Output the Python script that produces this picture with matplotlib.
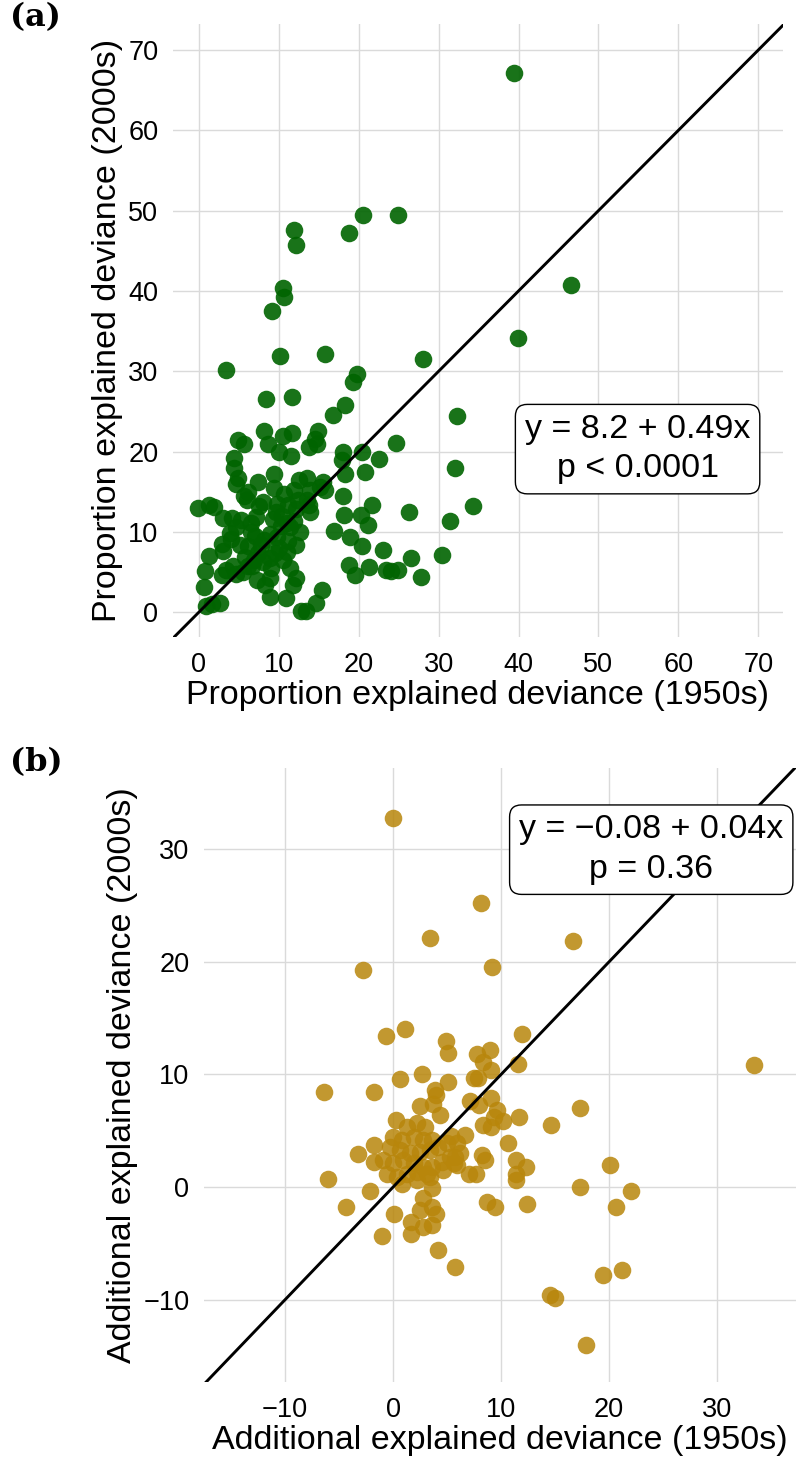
import matplotlib
matplotlib.use("Agg")
import matplotlib.pyplot as plt

# ---------------- data: panel (a) ----------------
x_a = [39.4, 46.6, 39.9, 32.25, 32.1, 34.25, 31.4, 30.4, 28.1, 26.25, 26.6, 27.75, 24.6, 24.9,
       20.5, 18.75, 11.9, 12.1, 10.5, 10.6, 9.1, 10.1, 15.75, 3.4, 19.75, 19.25, 18.25, 16.75,
       11.6, 8.4, 14.9, 14.5, 11.6, 8.1, 4.9, 5.6, 8.6, 10.5, 10.0, 4.4, 11.5, 18.0, 17.9, 20.4,
       22.5, 20.75, 18.25, 9.4, 4.4, 4.9, 4.6, 15.5, 15.1, 13.5, 12.5, 13.9, 11.9, 9.4, 7.4, 18.0,
       21.6, 15.75, 13.5, 10.6, 6.1, 5.6, -0.1, 1.25, 1.9, 3.0, 4.1, 18.1, 20.25, 21.1, 16.9, 18.9,
       20.4, 23.0, 18.75, 19.5, 21.25, 23.4, 24.0, 24.9, 15.4, 14.6, 12.75, 13.4, 11.75, 12.1, 11.4,
       10.9, 8.9, 8.25, 7.25, 8.9, 1.6, 2.6, 0.9, 0.6, 1.25, 0.75, 2.9, 3.4, 4.25, 4.6, 5.5, 6.1,
       6.9, 7.4, 5.75, 3.0, 2.9, 3.9, 4.0, 4.6, 5.3, 6.5, 7.1, 7.5, 8.0, 8.9, 8.1, 9.75, 10.25,
       11.0, 11.4, 11.9, 12.1, 11.1, 9.75, 11.1, 12.1, 11.0, 9.5, 8.9, 8.0, 6.6, 6.1, 5.1, 9.25,
       9.6, 13.9, 13.75, 12.4, 6.0, 13.75, 14.75, 7.0, 10.0, 6.5, 9.0, 10.5, 7.8, 12.6, 10.4]
y_a = [67.2, 40.75, 34.1, 24.4, 18.0, 13.25, 11.4, 7.1, 31.5, 12.5, 6.75, 4.4, 21.1, 49.5,
       49.5, 47.25, 47.6, 45.75, 40.4, 39.25, 37.5, 31.9, 32.1, 30.1, 29.6, 28.6, 25.75, 24.5,
       26.75, 26.5, 22.5, 21.5, 22.25, 22.6, 21.4, 21.0, 21.0, 21.9, 20.0, 19.25, 19.5, 20.0, 19.0, 19.9,
       19.1, 17.4, 17.25, 17.25, 17.9, 16.75, 15.9, 16.25, 15.6, 16.75, 16.5, 15.25, 15.25, 15.5, 16.25, 14.4,
       13.4, 15.25, 14.0, 14.75, 15.0, 14.5, 13.0, 13.4, 13.1, 11.75, 11.75, 12.1, 12.1, 10.9, 10.1, 9.4,
       8.25, 7.75, 5.9, 4.6, 5.6, 5.25, 5.1, 5.25, 2.75, 1.1, 0.1, 0.1, 3.4, 4.25, 5.5,
       1.75, 1.9, 3.4, 4.0, 4.25, 1.0, 1.1, 0.75, 3.1, 7.0, 5.1, 4.6, 5.25, 5.75, 4.75, 5.0, 5.75,
       6.5, 7.4, 6.9, 7.6, 8.5, 9.9, 9.1, 10.6, 11.5, 11.1, 11.9, 13.25, 13.75, 9.75, 9.0, 9.4, 10.75,
       11.1, 10.6, 11.4, 12.9, 13.4, 13.5, 8.9, 8.4, 7.5, 7.4, 6.75, 6.25, 5.75, 8.25, 8.4, 11.6,
       12.5, 12.5, 13.4, 14.0, 14.0, 20.6, 21.0, 9.5, 8.0, 10.0, 5.5, 6.5, 8.4, 10.0, 12.0]

# ---------------- data: panel (b) ----------------
x_b = [0.0, 8.1, 3.4, 16.7, -2.8, 9.2, 33.4, 17.3, 20.1, 20.6, 22.0, 21.2, 19.4, 14.5, 15.0, 17.9,
       -0.65, 1.1, 4.9, 5.05, 11.9, 7.8, 9.0, 8.3, 9.1, 11.6, 0.65, 2.7, 5.05, 7.5, 7.9, -6.4, -1.75,
       3.9, 4.0, 2.5, 3.7, 4.3, 7.1, 8.0, 9.1, 9.6, 10.2, 9.3, 11.7, 14.6, 8.3, 9.1, 10.65, 6.65,
       5.4, 5.9, 5.7, 5.6, 8.2, 8.5, 11.4, 12.3, 11.4, 11.4, 7.0, 7.7, 17.3, -6.05, -3.2, -1.8, -1.8,
       -2.1, -4.4, 0.1, -1.05, 1.7, 1.7, 2.5, 3.6, 4.0, 3.6, 2.8, 2.8, 3.6, 4.2, 5.7, 8.7, 9.4, 12.4,
       0.3, 1.3, 2.2, 3.0, 0.0, 0.8, 1.9, 2.8, 3.6, -0.3, 0.65, 1.6, 2.5, 3.4, 4.2, 4.95, -0.9, 0.0,
       0.95, 1.9, 2.8, 3.6, 4.5, 5.3, 6.2, -0.6, 0.35, 1.3, 2.2, 3.1, 0.8, 2.2, 3.4, 4.65, 5.9]
y_b = [32.8, 25.2, 22.1, 21.8, 19.3, 19.5, 10.8, 7.0, 2.0, -1.8, -0.35, -7.4, -7.8, -9.6, -9.85, -14.0,
       13.4, 14.0, 13.0, 11.9, 13.6, 11.8, 12.2, 11.1, 10.35, 10.9, 9.6, 10.0, 9.3, 9.7, 9.7, 8.4, 8.4,
       8.6, 8.2, 7.2, 7.35, 6.4, 7.65, 7.3, 7.9, 6.8, 5.9, 6.2, 6.2, 5.5, 5.5, 5.35, 3.9, 4.6,
       4.5, 3.9, 2.7, 2.1, 2.85, 2.4, 2.4, 1.8, 1.2, 0.6, 1.2, 1.2, 0.0, 0.7, 2.9, 3.7, 2.25,
       -0.35, -1.75, -2.35, -4.35, -3.1, -4.2, -2.0, -1.75, -2.35, -3.4, -3.5, -1.0, -0.1, -5.6, -7.1, -1.3, -1.8, -1.5,
       5.95, 5.35, 5.65, 5.35, 4.45, 4.2, 4.45, 4.2, 4.2, 3.6, 3.3, 3.0, 3.1, 3.3, 3.6, 3.9, 2.4, 2.1,
       2.4, 2.1, 1.8, 1.8, 2.25, 2.7, 3.0, 1.2, 0.9, 1.2, 1.35, 1.2, 0.3, 0.6, 0.9, 1.5, 1.95]

ticks_a = [0, 10, 20, 30, 40, 50, 60, 70]
ticks_b = [-10, 0, 10, 20, 30]
xlabel_a = "Proportion explained deviance (1950s)"
ylabel_a = "Proportion explained deviance (2000s)"
xlabel_b = "Additional explained deviance (1950s)"
ylabel_b = "Additional explained deviance (2000s)"
note_a = "y = 8.2 + 0.49x\np < 0.0001"
note_b = "y = \u22120.08 + 0.04x\np = 0.36"

plt.rcParams['font.family'] = ['Liberation Sans', 'DejaVu Sans']
W, H = 796, 1466
fig = plt.figure(figsize=(W / 100, H / 100), dpi=100)
ax1 = fig.add_axes([173 / W, 1 - 637 / H, 610 / W, 613 / H])
ax2 = fig.add_axes([204 / W, 1 - 1382 / H, 592 / W, 614 / H])


def style(ax, ticks, xlim, ylim, xlabel, ylabel):
    ax.set_xlim(*xlim)
    ax.set_ylim(*ylim)
    ax.set_xticks(ticks)
    ax.set_yticks(ticks)
    for s in ax.spines.values():
        s.set_visible(False)
    ax.tick_params(length=0, labelsize=19.5, pad=10.5)
    ax.grid(True, color='#DADADA', linewidth=1.0)
    ax.set_axisbelow(True)
    ax.set_xlabel(xlabel, fontsize=24.5, labelpad=2)
    ax.set_ylabel(ylabel, fontsize=24.5, labelpad=4)


style(ax1, ticks_a, (-3.25, 73.1), (-3.1, 73.25), xlabel_a, ylabel_a)
style(ax2, ticks_b, (-17.5, 37.3), (-17.3, 37.2), xlabel_b, ylabel_b)

ax1.scatter(x_a, y_a, s=160, color='#006400', alpha=0.9, linewidths=0, zorder=2)
ax2.scatter(x_b, y_b, s=160, color='#B8860B', alpha=0.85, linewidths=0, zorder=2)

for ax in (ax1, ax2):
    ax.axline((0, 0), slope=1, color='black', linewidth=2.1, zorder=3)

box = dict(boxstyle='round,pad=0.28,rounding_size=0.35', fc='white', ec='black', lw=1.0)
ax1.text(54.9, 20.3, note_a, ha='center', va='center', fontsize=24.5,
         linespacing=1.35, bbox=box, zorder=5)
ax2.text(23.9, 29.95, note_b, ha='center', va='center', fontsize=24.5,
         linespacing=1.35, bbox=box, zorder=5)

fig.text(10 / W, 1 - 18 / H, "(a)", fontsize=23, fontweight='bold',
         family='DejaVu Serif', ha='left', va='center')
fig.text(10 / W, 1 - 763 / H, "(b)", fontsize=23, fontweight='bold',
         family='DejaVu Serif', ha='left', va='center')

fig.savefig('out.png', dpi=100)
